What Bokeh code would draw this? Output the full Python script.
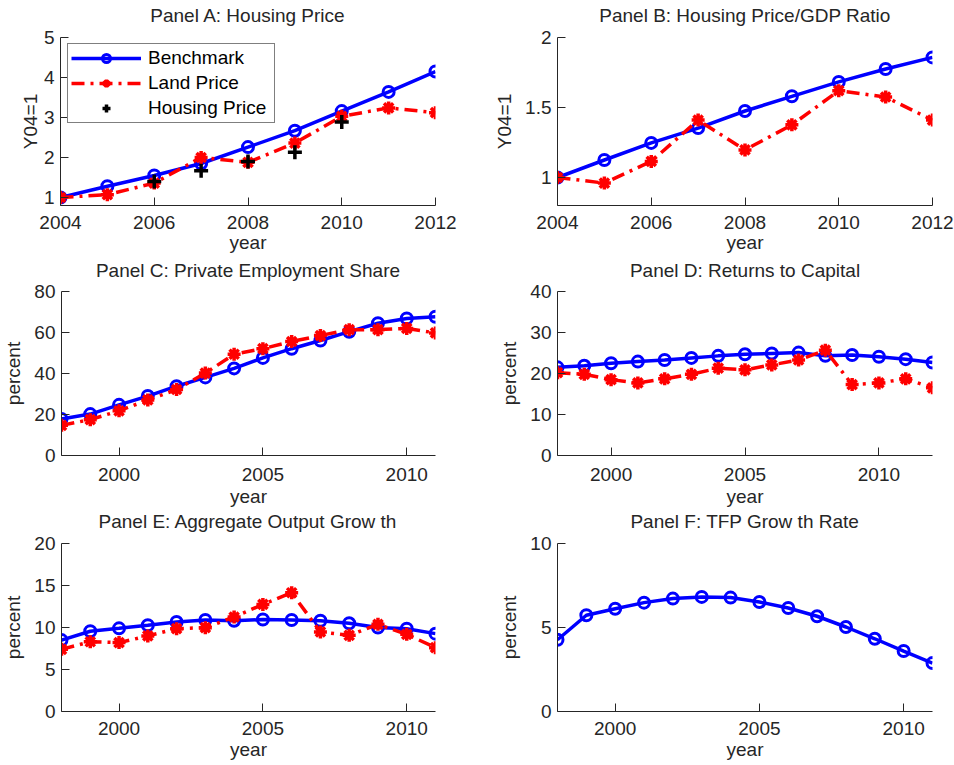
from bokeh.plotting import figure
from bokeh.layouts import row, column
from bokeh.models import FixedTicker, Legend, LegendItem
from bokeh.core.properties import value
from bokeh.embed import file_html
from bokeh.resources import INLINE

# ---------------- data ----------------
years_a = [2004, 2005, 2006, 2007, 2008, 2009, 2010, 2011, 2012]
a_bench = [1.00, 1.28, 1.55, 1.85, 2.26, 2.67, 3.16, 3.64, 4.15]
a_land = [1.00, 1.07, 1.36, 2.00, 1.88, 2.36, 3.03, 3.24, 3.12]
years_a_house = [2006, 2007, 2008, 2009, 2010]
a_house = [1.40, 1.67, 1.90, 2.13, 2.89]

b_bench = [1.00, 1.125, 1.247, 1.353, 1.475, 1.58, 1.683, 1.775, 1.858]
b_land = [1.00, 0.96, 1.115, 1.41, 1.197, 1.376, 1.62, 1.575, 1.41]

years_c = list(range(1998, 2012))
c_bench = [17.8, 20.2, 24.7, 29.0, 33.8, 38.1, 42.5, 47.6, 52.1, 56.1, 60.4, 64.5, 66.8, 67.7]
c_land = [14.7, 17.5, 21.8, 27.1, 32.2, 40.2, 49.4, 52.1, 55.6, 58.5, 61.4, 61.4, 62.0, 59.8]

years_d = list(range(1998, 2013))
d_bench = [21.5, 21.9, 22.5, 22.9, 23.3, 23.8, 24.3, 24.7, 24.9, 25.1, 24.3, 24.5, 24.1, 23.5, 22.7]
d_land = [20.2, 19.8, 18.5, 17.7, 18.7, 19.8, 21.3, 20.9, 22.1, 23.3, 25.7, 17.3, 17.7, 18.7, 16.5]

years_e = list(range(1998, 2012))
e_bench = [8.5, 9.55, 9.9, 10.26, 10.65, 10.9, 10.8, 10.95, 10.9, 10.8, 10.5, 10.0, 9.86, 9.27]
e_land = [7.4, 8.3, 8.2, 9.0, 9.86, 9.98, 11.25, 12.75, 14.14, 9.47, 9.07, 10.38, 9.19, 7.6]

years_f = list(range(1998, 2012))
f_bench = [4.27, 5.73, 6.12, 6.48, 6.72, 6.82, 6.78, 6.52, 6.16, 5.67, 5.03, 4.33, 3.6, 2.88]

titles = ["Panel A: Housing Price", "Panel B: Housing Price/GDP Ratio",
          "Panel C: Private Employment Share", "Panel D: Returns to Capital",
          "Panel E: Aggregate Output Grow th", "Panel F: TFP Grow th Rate"]
legend_labels = ["Benchmark", "Land Price", "Housing Price"]

FONT = "Liberation Sans"
FS = "19px"
TXT = "#262626"
BLUE = "#0000ff"
RED = "#ff0000"
DASHDOT = "13 6 3 6"
PAGE_W = 954
# layout: (strip height, strip title y from bottom, fig height, top, bottom,
#          x tick standoff, x label standoff)
ROWS = [(26, 11, 229, 11, 50, 10, 0),
        (26, 11, 228, 10, 52, 12, 2),
        (23, 11, 232, 11, 53, 10, 1)]
COL_CENTERS = [247.5, 744.5]


def title_strip(rowi, left_title, right_title):
    sh, ty = ROWS[rowi][0], ROWS[rowi][1]
    s = figure(width=PAGE_W, height=sh, x_range=(0, PAGE_W), y_range=(0, sh),
               output_backend="svg", toolbar_location=None,
               x_axis_type=None, y_axis_type=None,
               min_border=0)
    s.outline_line_color = None
    s.xgrid.visible = False
    s.ygrid.visible = False
    s.text(x=COL_CENTERS, y=[ty, ty], text=[left_title, right_title],
           text_align="center", text_baseline="middle",
           text_font=value(FONT), text_font_size=FS, text_color=TXT)
    return s


def make_fig(xr, yr, xticks, yticks, ylabel, col, rowi,
             overrides=None, ylab_standoff=7):
    if col == 0:
        width, bl, br = 477, 60, 42
    else:
        width, bl, br = 477, 80, 22
    _, _, height, bt, bb, xs, xls = ROWS[rowi]
    p = figure(width=width, height=height, x_range=xr, y_range=yr,
               output_backend="svg", toolbar_location=None,
               min_border_left=bl, min_border_right=br,
               min_border_top=bt, min_border_bottom=bb)
    p.xgrid.visible = False
    p.ygrid.visible = False
    p.outline_line_color = None
    p.background_fill_color = "white"
    p.border_fill_color = "white"
    for ax in (p.xaxis[0], p.yaxis[0]):
        ax.axis_line_color = TXT
        ax.axis_line_width = 1
        ax.major_tick_line_color = TXT
        ax.major_tick_in = 8
        ax.major_tick_out = 0
        ax.minor_tick_line_color = None
        ax.major_label_text_font = FONT
        ax.major_label_text_font_size = FS
        ax.major_label_text_color = TXT
        ax.axis_label_text_font = FONT
        ax.axis_label_text_font_size = FS
        ax.axis_label_text_font_style = "normal"
        ax.axis_label_text_color = TXT
    p.xaxis[0].ticker = FixedTicker(ticks=xticks)
    p.yaxis[0].ticker = FixedTicker(ticks=yticks)
    p.xaxis[0].axis_label = "year"
    p.yaxis[0].axis_label = ylabel
    p.xaxis[0].major_label_standoff = xs
    p.xaxis[0].axis_label_standoff = xls
    p.yaxis[0].major_label_standoff = 6
    p.yaxis[0].axis_label_standoff = ylab_standoff
    if overrides:
        p.yaxis[0].major_label_overrides = overrides
    return p


def bench(p, x, y):
    r1 = p.line(x, y, line_color=BLUE, line_width=3.5)
    r2 = p.scatter(x, y, marker="circle", size=11, fill_color=None,
                   line_color=BLUE, line_width=3)
    return [r1, r2]


def land(p, x, y):
    r1 = p.line(x, y, line_color=RED, line_width=3.5, line_dash=DASHDOT)
    r2 = p.scatter(x, y, marker="asterisk", size=13, line_color=RED,
                   line_width=3.5)
    return [r1, r2]


# Panel A
pa = make_fig((2004, 2012), (0.8, 5), [2004, 2006, 2008, 2010, 2012],
              [1, 2, 3, 4, 5], "Y04=1", 0, 0, ylab_standoff=0)
ra_b = bench(pa, years_a, a_bench)
ra_l = land(pa, years_a, a_land)
ra_h = pa.scatter(years_a_house, a_house, marker="cross", size=14,
                  line_color="black", line_width=3.5)
leg = Legend(items=[LegendItem(label=legend_labels[0], renderers=ra_b),
                    LegendItem(label=legend_labels[1], renderers=ra_l),
                    LegendItem(label=legend_labels[2], renderers=[ra_h])],
             location=(7, 82))
leg.border_line_color = "black"
leg.border_line_width = 1
leg.background_fill_alpha = 1
leg.padding = 3
leg.spacing = 3
leg.margin = 0
leg.glyph_width = 70
leg.glyph_height = 20
leg.label_height = 20
leg.label_width = 123
leg.label_standoff = 7
leg.label_text_font = FONT
leg.label_text_font_size = FS
leg.label_text_color = "black"
pa.add_layout(leg)

# Panel B
pb = make_fig((2004, 2012), (0.8, 2), [2004, 2006, 2008, 2010, 2012],
              [1, 1.5, 2], "Y04=1", 1, 0,
              overrides={1: "1", 1.5: "1.5", 2: "2"})
bench(pb, years_a, b_bench)
land(pb, years_a, b_land)

# Panel C
pc = make_fig((1998, 2011), (0, 80), [2000, 2005, 2010],
              [0, 20, 40, 60, 80], "percent", 0, 1)
bench(pc, years_c, c_bench)
land(pc, years_c, c_land)

# Panel D
pd_ = make_fig((1998, 2012), (0, 40), [2000, 2005, 2010],
               [0, 10, 20, 30, 40], "percent", 1, 1)
bench(pd_, years_d, d_bench)
land(pd_, years_d, d_land)

# Panel E
pe = make_fig((1998, 2011), (0, 20), [2000, 2005, 2010],
              [0, 5, 10, 15, 20], "percent", 0, 2)
bench(pe, years_e, e_bench)
land(pe, years_e, e_land)

# Panel F
pf = make_fig((1998, 2011), (0, 10), [2000, 2005, 2010],
              [0, 5, 10], "percent", 1, 2)
bench(pf, years_f, f_bench)

layout = column(title_strip(0, titles[0], titles[1]), row(pa, pb),
                title_strip(1, titles[2], titles[3]), row(pc, pd_),
                title_strip(2, titles[4], titles[5]), row(pe, pf))
open("out.html", "w").write(file_html(layout, INLINE))
